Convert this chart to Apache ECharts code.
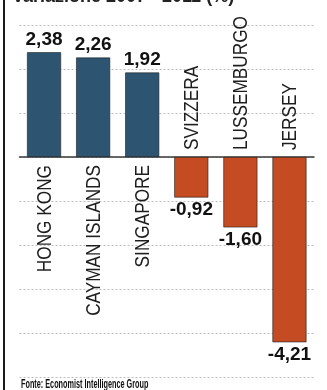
<!DOCTYPE html>
<html>
<head>
<meta charset="utf-8">
<script src="https://cdn.jsdelivr.net/npm/echarts@6/dist/echarts.min.js"></script>
<style>
  html, body { margin: 0; padding: 0; background: #fff; }
  #chart { width: 327px; height: 390px; }
</style>
</head>
<body>
<div id="chart"></div>
<script>
// dati
var paesi = ['HONG KONG', 'CAYMAN ISLANDS', 'SINGAPORE', 'SVIZZERA', 'LUSSEMBURGO', 'JERSEY'];
var valori = [2.38, 2.26, 1.92, -0.92, -1.60, -4.21];
var yTicks = [-5, -4, -3, -2, -1, 0, 1, 2, 3];

var BLU = '#2d5572';
var ROSSO = '#c44b22';
var FONT = "'Liberation Sans', Arial, sans-serif";

var chart = echarts.init(document.getElementById('chart'));

// barre con etichetta valore sopra o sotto
var barData = valori.map(function (v) {
  return {
    value: v,
    itemStyle: { color: v >= 0 ? BLU : ROSSO },
    label: { position: v >= 0 ? 'top' : 'bottom' }
  };
});

var option = {
  animation: false,
  grid: { left: 19.5, right: 13, top: 25, bottom: 13 },
  xAxis: {
    type: 'category',
    data: paesi,
    axisLine: { onZero: true, lineStyle: { color: '#3a3a3a', width: 1.5 } },
    axisTick: { show: false },
    axisLabel: { show: false },
    splitLine: { show: false }
  },
  yAxis: {
    type: 'value',
    min: yTicks[0],
    max: yTicks[yTicks.length - 1],
    interval: 1,
    axisLine: { show: false },
    axisTick: { show: false },
    axisLabel: { show: false },
    splitLine: { lineStyle: { color: '#b8bcc0', type: [2, 2], width: 1 } }
  },
  series: [
    {
      type: 'bar',
      data: barData,
      barWidth: 34,
      itemStyle: { borderColor: '#1b1b1b', borderWidth: 0.6 },
      label: {
        show: true,
        distance: 3,
        color: '#111',
        fontFamily: FONT,
        fontWeight: 'bold',
        fontSize: 19,
        formatter: function (p) {
          return p.value.toFixed(2).replace('.', ',');
        }
      },
      z: 2
    },
    {
      // nomi dei paesi, verticali, accanto alla linea dello zero
      type: 'custom',
      data: valori.map(function (v, i) { return [i, v]; }),
      renderItem: function (params, api) {
        var v = api.value(1);
        var p = api.coord([api.value(0), 0]);
        var pos = v >= 0;
        return {
          type: 'text',
          x: p[0] + 1,
          y: pos ? p[1] + 8 : p[1] - 7,
          rotation: Math.PI / 2,
          scaleX: 0.82,
          style: {
            text: paesi[params.dataIndex],
            align: pos ? 'right' : 'left',
            verticalAlign: 'middle',
            fontFamily: FONT,
            fontSize: 21,
            fill: '#1e1e1e'
          }
        };
      },
      z: 3
    }
  ],
  graphic: [
    { type: 'rect', left: 3, top: 0, shape: { width: 2, height: 390 }, style: { fill: '#1a1a1a' } },
    {
      type: 'text', left: 12, top: -12,
      style: { text: 'Variazione 2007 - 2011 (%)', font: "bold 18px " + FONT, fill: '#222' }
    },
    {
      type: 'text', left: 21, top: 378, scaleX: 0.56,
      style: { text: 'Fonte: Economist Intelligence Group', font: "bold 13px " + FONT, fill: '#111' }
    }
  ]
};

chart.setOption(option);
</script>
</body>
</html>
